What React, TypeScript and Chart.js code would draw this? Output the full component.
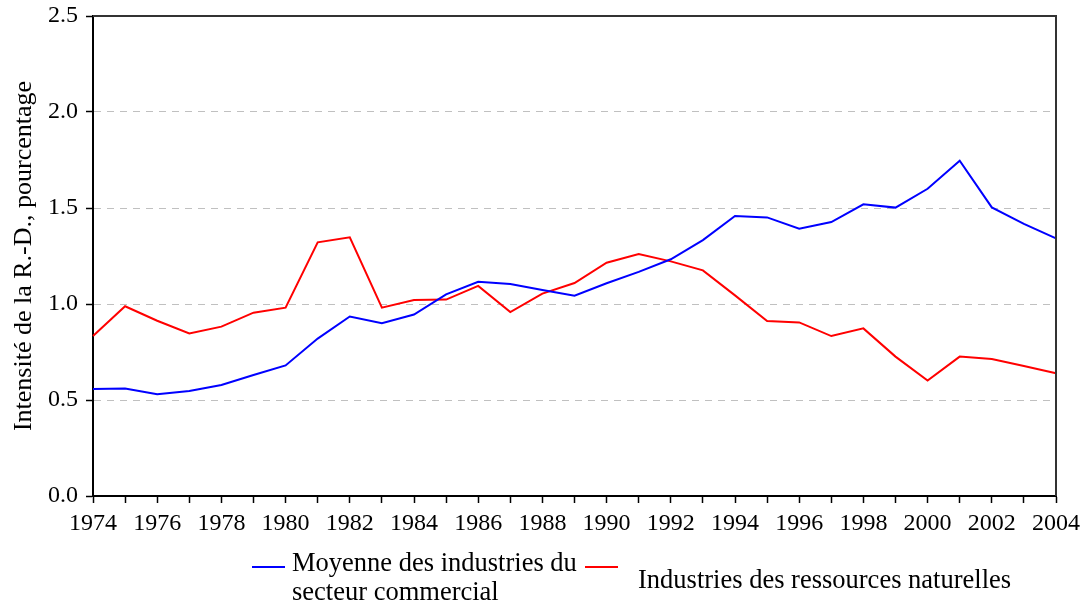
import React, { useEffect, useRef } from "react";
import { Chart, registerables } from "chart.js";

Chart.register(...registerables);

const years: string[] = [
  "1974", "1975", "1976", "1977", "1978", "1979", "1980", "1981", "1982", "1983",
  "1984", "1985", "1986", "1987", "1988", "1989", "1990", "1991", "1992", "1993",
  "1994", "1995", "1996", "1997", "1998", "1999", "2000", "2001", "2002", "2003", "2004",
];

const businessSector: number[] = [
  0.557, 0.56, 0.53, 0.547, 0.578, 0.63, 0.68, 0.82, 0.935, 0.9,
  0.945, 1.05, 1.116, 1.104, 1.073, 1.043, 1.108, 1.167, 1.233, 1.333,
  1.458, 1.451, 1.392, 1.427, 1.519, 1.502, 1.6, 1.746, 1.503, 1.417, 1.342,
];

const naturalResources: number[] = [
  0.833, 0.988, 0.913, 0.847, 0.882, 0.955, 0.981, 1.321, 1.347, 0.981,
  1.021, 1.023, 1.094, 0.958, 1.054, 1.109, 1.215, 1.26, 1.222, 1.175,
  1.045, 0.911, 0.904, 0.833, 0.873, 0.726, 0.601, 0.726, 0.714, 0.677, 0.639,
];

const seriesLabels: string[] = [
  "Moyenne des industries du secteur commercial",
  "Industries des ressources naturelles",
];

const yTitle = "Intensité de la R.-D., pourcentage";

const FONT = "'Liberation Serif', 'Times New Roman', serif";

const framePlugin = {
  id: "frame",
  afterDraw(chart: any) {
    const { ctx, chartArea } = chart;
    ctx.save();
    ctx.strokeStyle = "#333333";
    ctx.lineWidth = 2;
    ctx.beginPath();
    ctx.moveTo(chartArea.left, chartArea.top);
    ctx.lineTo(chartArea.right, chartArea.top);
    ctx.lineTo(chartArea.right, chartArea.bottom);
    ctx.stroke();
    ctx.restore();
  },
};

export default function App() {
  const ref = useRef<HTMLCanvasElement | null>(null);

  useEffect(() => {
    if (!ref.current) return;
    const chart = new Chart(ref.current, {
      type: "line",
      data: {
        labels: years,
        datasets: [
          {
            label: seriesLabels[0],
            data: businessSector,
            borderColor: "#0000ff",
            backgroundColor: "#0000ff",
            borderWidth: 2,
            pointRadius: 0,
            tension: 0,
          },
          {
            label: seriesLabels[1],
            data: naturalResources,
            borderColor: "#ff0000",
            backgroundColor: "#ff0000",
            borderWidth: 2,
            pointRadius: 0,
            tension: 0,
          },
        ],
      },
      options: {
        animation: false,
        responsive: false,
        maintainAspectRatio: false,
        layout: { padding: { left: 0, top: 16, right: 30, bottom: 0 } },
        plugins: {
          legend: { display: false },
          tooltip: { enabled: false },
        },
        scales: {
          x: {
            type: "category",
            offset: false,
            grid: {
              display: true,
              drawOnChartArea: false,
              drawTicks: true,
              tickLength: 7,
              tickColor: "#000000",
              tickWidth: 1.5,
            },
            border: { display: true, color: "#000000", width: 2 },
            ticks: {
              autoSkip: false,
              maxRotation: 0,
              minRotation: 0,
              padding: 6,
              color: "#000000",
              font: { family: FONT, size: 24 },
              callback: (_v: any, i: number) => (i % 2 === 0 ? years[i] : ""),
            },
            afterFit: (scale: any) => {
              scale.height = 110;
              scale.paddingRight = 0;
              scale.paddingLeft = 0;
            },
          },
          y: {
            min: 0,
            max: 2.5,
            grid: {
              display: true,
              color: (c: any) => (c.tick && c.tick.value === 2.5 ? "rgba(0,0,0,0)" : "#c0c0c0"),
              lineWidth: 1,
              drawTicks: true,
              tickLength: 7,
              tickColor: "#000000",
              tickWidth: 1.5,
            },
            border: { display: true, color: "#000000", width: 2, dash: [7, 6] },
            ticks: {
              stepSize: 0.5,
              padding: 8,
              color: "#000000",
              font: { family: FONT, size: 24 },
              callback: (v: any) => Number(v).toFixed(1),
            },
            title: {
              display: true,
              text: yTitle,
              color: "#000000",
              font: { family: FONT, size: 26 },
              padding: { top: 9, bottom: 0 },
            },
            afterFit: (scale: any) => {
              scale.width = 93;
              scale.paddingTop = 0;
              scale.paddingBottom = 0;
            },
          },
        },
      },
      plugins: [framePlugin],
    });
    return () => chart.destroy();
  }, []);

  const textStyle: React.CSSProperties = {
    position: "absolute",
    fontFamily: FONT,
    fontSize: 26.5,
    color: "#000",
    lineHeight: "29px",
    whiteSpace: "nowrap",
  };

  return (
    <div style={{ position: "fixed", left: 0, top: 0, width: 1086, height: 606, background: "#fff" }}>
      <canvas ref={ref} width={1086} height={606} style={{ position: "absolute", left: 0, top: 0 }} />
      <div style={{ position: "absolute", left: 252, top: 566, width: 33, height: 2, background: "#0000ff" }} />
      <div style={{ ...textStyle, left: 292, top: 548 }}>
        Moyenne des industries du
        <br />
        secteur commercial
      </div>
      <div style={{ position: "absolute", left: 585, top: 566, width: 33, height: 2, background: "#ff0000" }} />
      <div style={{ ...textStyle, left: 638, top: 565 }}>{seriesLabels[1]}</div>
    </div>
  );
}
